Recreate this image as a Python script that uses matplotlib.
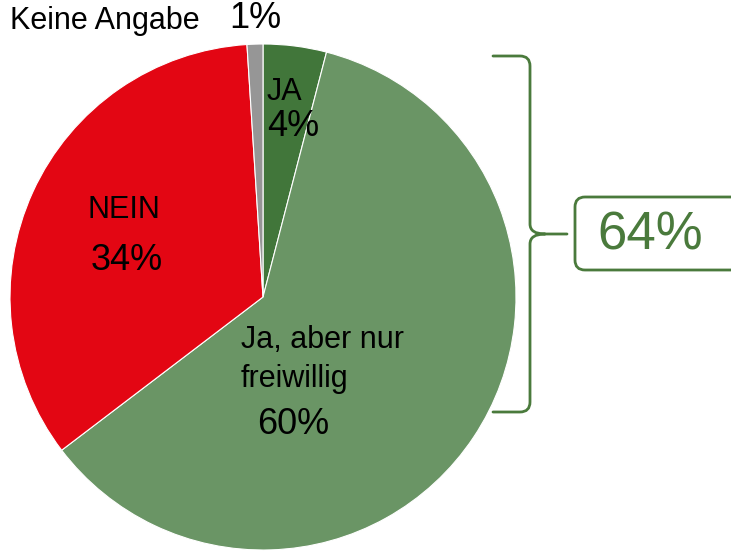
import matplotlib
matplotlib.use('Agg')

import matplotlib.pyplot as plt
from matplotlib.path import Path
from matplotlib.patches import PathPatch, FancyBboxPatch

plt.rcParams['font.family'] = ['Liberation Sans', 'DejaVu Sans']

# Data
labels = ["JA", "Ja, aber nur\nfreiwillig", "NEIN", "Keine Angabe"]
values = [4, 60, 34, 1]
colors = ["#41763a", "#6a9565", "#e30613", "#969696"]
total_yes = "64%"

H = 551
fig = plt.figure(figsize=(7.31, 5.51), dpi=100)
ax = fig.add_axes([0, 0, 1, 1])

# Pie (clockwise from top)
ax.pie(values, colors=colors, startangle=90, counterclock=False,
       center=(263, H - 297), radius=253,
       wedgeprops=dict(edgecolor='white', linewidth=0.8))
ax.set_xlim(0, 731)
ax.set_ylim(0, H)
ax.set_aspect('equal')
ax.axis('off')


def y(py):
    return H - py


# Labels
ax.text(10, y(21), "Keine Angabe", fontsize=22, ha='left', va='center')
ax.text(229, y(19), "1%", fontsize=26, ha='left', va='center')
ax.text(284, y(92), "JA", fontsize=22, ha='center', va='center')
ax.text(293, y(127), "4%", fontsize=26, ha='center', va='center')
ax.text(124, y(210), "NEIN", fontsize=22, ha='center', va='center')
ax.text(127, y(261), "34%", fontsize=26, ha='center', va='center')
ax.text(241, y(340), "Ja, aber nur", fontsize=22, ha='left', va='center')
ax.text(241, y(379), "freiwillig", fontsize=22, ha='left', va='center')
ax.text(293, y(424), "60%", fontsize=26, ha='center', va='center')

# Bracket
green = "#4a7a3c"
verts = [(493, 56), (520, 56), (530, 56), (530, 66),
         (530, 224), (530, 234), (545, 234), (567, 234),
         (545, 234), (530, 234), (530, 244),
         (530, 402), (530, 412), (520, 412), (493, 412)]
codes = [Path.MOVETO, Path.LINETO, Path.CURVE3, Path.CURVE3,
         Path.LINETO, Path.CURVE3, Path.CURVE3, Path.LINETO,
         Path.MOVETO, Path.CURVE3, Path.CURVE3,
         Path.LINETO, Path.CURVE3, Path.CURVE3, Path.LINETO]
verts = [(vx, y(vy)) for vx, vy in verts]
ax.add_patch(PathPatch(Path(verts, codes), fill=False, edgecolor=green,
                       linewidth=2, capstyle='round', joinstyle='round'))

# Boxed total
ax.add_patch(FancyBboxPatch((575, y(270)), 200, 73,
                            boxstyle="round,pad=0,rounding_size=10",
                            facecolor='white', edgecolor=green, linewidth=2,
                            clip_on=False))
ax.text(650, y(235), total_yes, fontsize=38, color=green,
        ha='center', va='center')

fig.savefig("out.png", dpi=100)
